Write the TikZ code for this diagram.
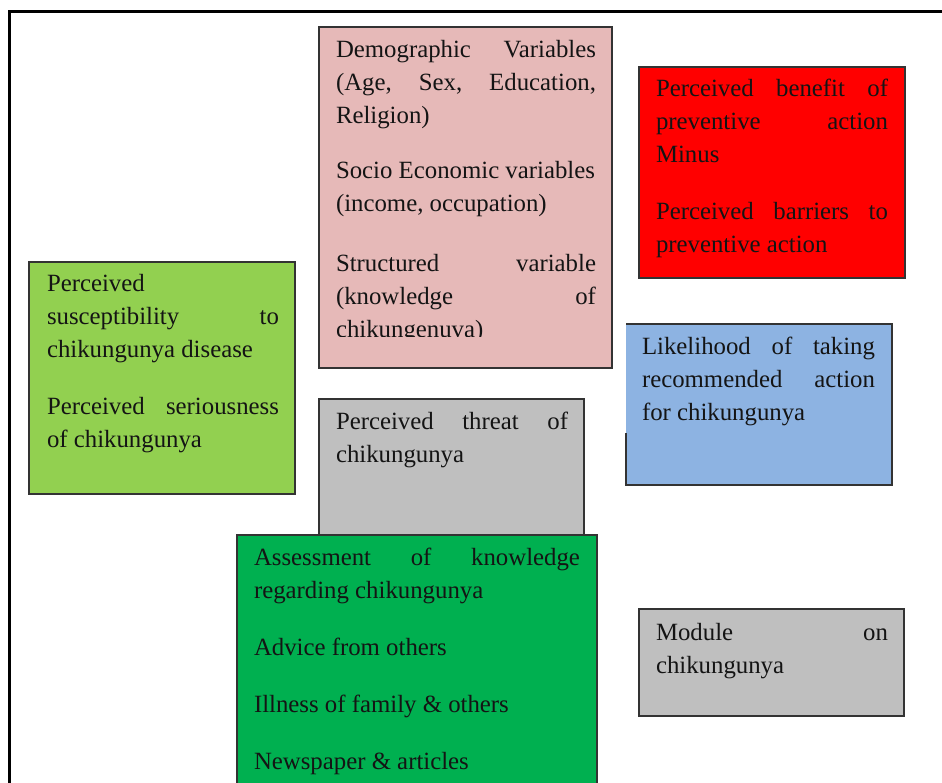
\documentclass[tikz,border=0pt]{standalone}
\usepackage{fontspec}
\setmainfont{Liberation Serif}
\usetikzlibrary{calc}
\definecolor{pinkc}{HTML}{E6B9B8}
\definecolor{redc}{HTML}{FF0000}
\definecolor{lgreenc}{HTML}{92D050}
\definecolor{grayc}{HTML}{BFBFBF}
\definecolor{bluec}{HTML}{8DB3E2}
\definecolor{dgreenc}{HTML}{00B050}
\definecolor{bordc}{HTML}{333333}
\definecolor{textc}{HTML}{141414}
\newcommand\jline[1]{\hbox to\linewidth{#1}}
\newcommand\pline[1]{\hbox{#1}}
\newcommand\pgap[1][24pt]{\vskip #1}
\begin{document}
\begin{tikzpicture}[x=1pt,y=-1pt,
  box/.style={draw=bordc, line width=1.2pt, inner sep=0pt, outer sep=0pt, anchor=north west},
  fillbox/.style={draw=none, inner sep=0pt, outer sep=0pt, anchor=north west},
  bord/.style={draw=bordc, line width=1.2pt},
  txt/.style={inner sep=0pt, outer sep=0pt, anchor=base west, text=textc,
    font=\fontsize{24.8}{33}\selectfont}]
\useasboundingbox (0,0) rectangle (942,783);
% outer frame
\coordinate (fbl) at (9,783);
\coordinate (ftl) at (9,12);
\coordinate (ftr) at (942,12);
\draw[line width=3pt, line join=miter] (fbl) -- (ftl) -- (ftr);

% demographic box
\node[box, fill=pinkc, minimum width=293, minimum height=341] (demo) at (319,27) {};
\begin{scope}
\clip (319,27) rectangle (612,337);
\node[txt] (demot) at (336,58) {\parbox[t]{260pt}{%
\jline{Demographic Variables}
\jline{(Age, Sex, Education,}
\pline{Religion)}
\pgap[22pt]
\pline{Socio Economic variables}
\pline{(income, occupation)}
\pgap[27pt]
\jline{Structured variable}
\jline{(knowledge of}
\pline{chikungenuva)}}};
\end{scope}

% benefit box
\node[box, fill=redc, minimum width=266, minimum height=211] (ben) at (639,67) {};
\node[txt] (bent) at (656,97) {\parbox[t]{232pt}{%
\jline{Perceived benefit of}
\jline{preventive action}
\pline{Minus}
\pgap
\jline{Perceived barriers to}
\pline{preventive action}}};

% susceptibility box
\node[box, fill=lgreenc, minimum width=266, minimum height=232] (sus) at (29,262) {};
\node[txt] (sust) at (47,292) {\parbox[t]{232pt}{%
\pline{Perceived}
\jline{susceptibility to}
\pline{chikungunya disease}
\pgap
\jline{Perceived seriousness}
\pline{of chikungunya}}};

% threat box
\node[box, fill=grayc, minimum width=265, minimum height=160] (thr) at (319,399) {};
\node[txt] (thrt) at (336,429) {\parbox[t]{232pt}{%
\jline{Perceived threat of}
\pline{chikungunya}}};

% likelihood box
\node[fillbox, fill=bluec, minimum width=266, minimum height=161] (lik) at (626,324) {};
\draw[bord] ([yshift=52pt]lik.south west) -- (lik.south west) -- (lik.south east)
  -- (lik.north east) -- (lik.north west);
\node[txt] (likt) at (642,355) {\parbox[t]{233pt}{%
\jline{Likelihood of taking}
\jline{recommended action}
\pline{for chikungunya}}};

% cues box
\node[fillbox, fill=dgreenc, minimum width=360, minimum height=250] (cue) at (237,535) {};
\draw[bord] (cue.south west) -- (cue.north west) -- (cue.north east) -- (cue.south east);
\node[txt] (cuet) at (254,565) {\parbox[t]{326pt}{%
\jline{Assessment of knowledge}
\pline{regarding chikungunya}
\pgap
\pline{Advice from others}
\pgap
\pline{Illness of family \& others}
\pgap
\pline{Newspaper \& articles}}};

% module box
\node[box, fill=grayc, minimum width=265, minimum height=107] (mod) at (639,609) {};
\node[txt] (modt) at (656,640) {\parbox[t]{232pt}{%
\jline{Module on}
\pline{chikungunya}}};
\end{tikzpicture}
\end{document}
